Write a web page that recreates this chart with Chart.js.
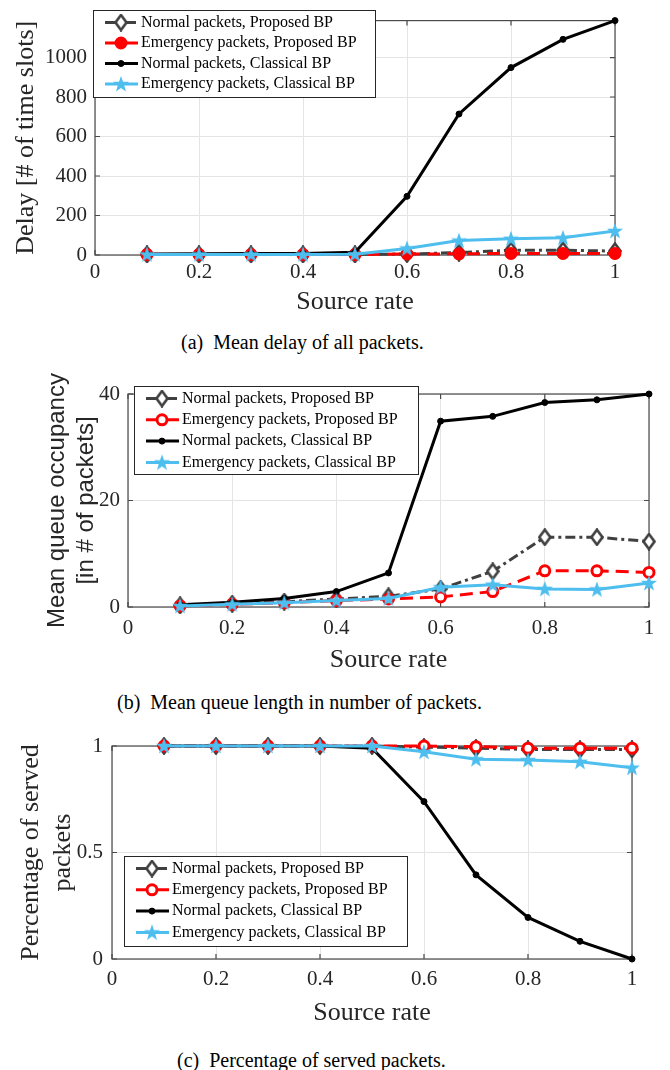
<!DOCTYPE html>
<html>
<head>
<meta charset="utf-8">
<script src="https://cdn.jsdelivr.net/npm/chart.js"></script>
<style>
  body { margin: 0; background: #fff; }
  #page { position: relative; width: 670px; height: 1070px; }
  canvas { position: absolute; left: 0; }
  .cap { position: absolute; font-family: 'Liberation Serif', serif; font-size: 20px; line-height: 20px; white-space: pre; color: #000; }
</style>
</head>
<body>
<div id="page">
  <canvas id="delayChart" width="670" height="320" style="top:0px"></canvas>
  <canvas id="queueChart" width="670" height="320" style="top:360px"></canvas>
  <canvas id="servedChart" width="670" height="320" style="top:720px"></canvas>
  <div class="cap" style="left:181px;top:332px">(a)  Mean delay of all packets.</div>
  <div class="cap" style="left:117px;top:692px">(b)  Mean queue length in number of packets.</div>
  <div class="cap" style="left:177px;top:1050px">(c)  Percentage of served packets.</div>
</div>
<script>
// x values and axis ticks shared by all three panels
const sourceRate = [0.1, 0.2, 0.3, 0.4, 0.5, 0.6, 0.7, 0.8, 0.9, 1.0];
const xTicks = [0, 0.2, 0.4, 0.6, 0.8, 1];
const xTickLabels = ['0', '0.2', '0.4', '0.6', '0.8', '1'];
const seriesNames = [
  'Normal packets, Proposed BP',
  'Emergency packets, Proposed BP',
  'Normal packets, Classical BP',
  'Emergency packets, Classical BP'
];

// (a) mean delay
const delayNormalProposed = [3, 3, 3, 3, 3, 5, 12, 24, 24, 20];
const delayEmergencyProposed = [2, 2, 2, 2, 2, 5, 6, 8, 8, 8];
const delayNormalClassical = [5, 6, 7, 8, 14, 297, 714, 949, 1092, 1187];
const delayEmergencyClassical = [3, 3, 3, 3, 4, 33, 73, 82, 87, 122];
const delayTicks = [0, 200, 400, 600, 800, 1000];
const delayTickLabels = ['0', '200', '400', '600', '800', '1000'];

// (b) mean queue occupancy
const queueNormalProposed = [0.3, 0.6, 1.0, 1.5, 2.0, 3.4, 6.7, 13.1, 13.1, 12.3];
const queueEmergencyProposed = [0.2, 0.5, 0.8, 1.2, 1.5, 1.9, 2.9, 6.8, 6.8, 6.5];
const queueNormalClassical = [0.4, 0.9, 1.6, 2.9, 6.4, 34.9, 35.8, 38.4, 38.9, 40.0];
const queueEmergencyClassical = [0.2, 0.5, 0.8, 1.2, 1.6, 3.7, 4.2, 3.4, 3.3, 4.5];
const queueTicks = [0, 20, 40];
const queueTickLabels = ['0', '20', '40'];

// (c) percentage of served packets
const servedNormalProposed = [1, 1, 1, 1, 1, 0.995, 0.99, 0.984, 0.984, 0.984];
const servedEmergencyProposed = [1, 1, 1, 1, 1, 1, 0.997, 0.99, 0.99, 0.99];
const servedNormalClassical = [1, 1, 1, 1, 0.99, 0.739, 0.395, 0.195, 0.083, 0];
const servedEmergencyClassical = [1, 1, 1, 1, 1, 0.973, 0.938, 0.934, 0.926, 0.898];
const servedTicks = [0, 0.5, 1];
const servedTickLabels = ['0', '0.5', '1'];

const textColor = '#262626';
const gridColor = '#e4e4e4';
const blue = '#4DBEEE';
const serif = "'Liberation Serif', serif";
const sans = "'Liberation Sans', sans-serif";
Chart.defaults.font.family = serif;

// marker images (matlab style diamond and filled star)
function makeDiamond() {
  const c = document.createElement('canvas');
  c.width = 14; c.height = 18;
  const g = c.getContext('2d');
  g.beginPath();
  g.moveTo(7, 1.5); g.lineTo(12.5, 9); g.lineTo(7, 16.5); g.lineTo(1.5, 9); g.closePath();
  g.fillStyle = '#fff'; g.fill();
  g.lineWidth = 2.6; g.strokeStyle = '#404040'; g.stroke();
  return c;
}
function makeStar() {
  const c = document.createElement('canvas');
  c.width = 18; c.height = 18;
  const g = c.getContext('2d');
  g.beginPath();
  for (let i = 0; i < 10; i++) {
    const r = i % 2 ? 3.4 : 8.5;
    const a = -Math.PI / 2 + i * Math.PI / 5;
    g.lineTo(9 + r * Math.cos(a), 9.5 + r * Math.sin(a));
  }
  g.closePath();
  g.fillStyle = blue; g.fill();
  return c;
}
const diamondImg = makeDiamond();
const starImg = makeStar();

function makeDatasets(values, redFill) {
  const styles = [
    { borderColor: '#404040', borderDash: [10, 4, 3, 4], pointStyle: diamondImg, pointRadius: 7, order: 4 },
    { borderColor: '#ff0000', borderDash: [13, 7], pointStyle: 'circle', pointRadius: 5, pointBorderWidth: 3,
      pointBorderColor: '#ff0000', pointBackgroundColor: redFill ? '#ff0000' : '#fff', order: 3 },
    { borderColor: '#000', pointStyle: 'circle', pointRadius: 3, pointBorderWidth: 1,
      pointBorderColor: '#000', pointBackgroundColor: '#000', order: 2 },
    { borderColor: blue, pointStyle: starImg, pointRadius: 7, order: 1 }
  ];
  return values.map((vals, i) => Object.assign({
    label: seriesNames[i],
    data: sourceRate.map((x, j) => ({ x: x, y: vals[j] })),
    borderWidth: 3,
    fill: false,
    tension: 0,
    clip: false
  }, styles[i]));
}

function drawMarker(ctx, ds, x, y) {
  if (typeof ds.pointStyle === 'object') {
    ctx.drawImage(ds.pointStyle, x - ds.pointStyle.width / 2, y - ds.pointStyle.height / 2);
    return;
  }
  ctx.beginPath();
  ctx.arc(x, y, ds.pointRadius, 0, Math.PI * 2);
  ctx.fillStyle = ds.pointBackgroundColor;
  ctx.fill();
  ctx.lineWidth = ds.pointBorderWidth;
  ctx.strokeStyle = ds.pointBorderColor;
  ctx.stroke();
}

// box around axes, inward ticks, and legend box
const matlabBox = {
  id: 'matlabBox',
  beforeDatasetsDraw(chart) {
    const { ctx, chartArea: a, scales } = chart;
    ctx.save();
    ctx.strokeStyle = '#4a4a4a';
    ctx.lineWidth = 1.2;
    ctx.strokeRect(a.left, a.top, a.right - a.left, a.bottom - a.top);
    ctx.beginPath();
    scales.x.ticks.forEach(t => {
      const px = scales.x.getPixelForValue(t.value);
      ctx.moveTo(px, a.bottom); ctx.lineTo(px, a.bottom - 5);
      ctx.moveTo(px, a.top); ctx.lineTo(px, a.top + 5);
    });
    scales.y.ticks.forEach(t => {
      const py = scales.y.getPixelForValue(t.value);
      ctx.moveTo(a.left, py); ctx.lineTo(a.left + 5, py);
      ctx.moveTo(a.right, py); ctx.lineTo(a.right - 5, py);
    });
    ctx.stroke();
    ctx.restore();
  },
  afterDatasetsDraw(chart, args, opts) {
    const L = opts.legend;
    if (!L) return;
    const ctx = chart.ctx;
    ctx.save();
    ctx.fillStyle = '#fff';
    ctx.fillRect(L.x, L.y, L.w, L.h);
    ctx.strokeStyle = '#262626';
    ctx.lineWidth = 1;
    ctx.strokeRect(L.x + 0.5, L.y + 0.5, L.w, L.h);
    chart.data.datasets.forEach((ds, i) => {
      const yy = L.y + 12.5 + i * L.gap;
      ctx.setLineDash(ds.borderDash || []);
      ctx.strokeStyle = ds.borderColor;
      ctx.lineWidth = ds.borderWidth;
      ctx.beginPath();
      ctx.moveTo(L.x + 12, yy);
      ctx.lineTo(L.x + 45, yy);
      ctx.stroke();
      ctx.setLineDash([]);
      drawMarker(ctx, ds, L.x + 28, yy);
      ctx.fillStyle = '#000';
      ctx.font = "16px 'Liberation Serif', serif";
      ctx.textBaseline = 'middle';
      ctx.fillText(ds.label, L.x + 48, yy);
    });
    ctx.restore();
  }
};

function makeChart(id, c) {
  return new Chart(document.getElementById(id), {
    type: 'line',
    data: { datasets: c.datasets },
    options: {
      responsive: false,
      animation: false,
      devicePixelRatio: 1,
      layout: { padding: { top: c.padTop, right: c.padRight, left: 0, bottom: 0 } },
      plugins: {
        legend: { display: false },
        tooltip: { enabled: false },
        matlabBox: { legend: c.legend }
      },
      scales: {
        x: {
          type: 'linear', min: 0, max: 1,
          afterBuildTicks: s => { s.ticks = xTicks.map(v => ({ value: v })); },
          afterFit: s => { s.height = c.xHeight; },
          grid: { color: gridColor, drawTicks: false },
          border: { display: false },
          ticks: { padding: c.xPad, color: textColor, font: { family: serif, size: 21 }, maxRotation: 0, autoSkip: false,
                   callback: (v, i) => xTickLabels[i] },
          title: { display: true, text: 'Source rate', color: textColor, font: { family: serif, size: 26 },
                   padding: { top: 0, bottom: c.xTitlePad } }
        },
        y: {
          type: 'linear', min: c.yMin, max: c.yMax,
          afterBuildTicks: s => { s.ticks = c.yTicks.map(v => ({ value: v })); },
          afterFit: s => { s.width = c.yWidth; },
          grid: { color: gridColor, drawTicks: false },
          border: { display: false },
          ticks: { padding: c.yPad, color: textColor, font: { family: serif, size: 21 }, autoSkip: false,
                   callback: (v, i) => c.yTickLabels[i] },
          title: { display: true, text: c.yTitle, color: textColor, font: c.yTitleFont,
                   padding: { top: c.yTitlePad, bottom: 0 } }
        }
      }
    },
    plugins: [matlabBox]
  });
}

makeChart('delayChart', {
  datasets: makeDatasets([delayNormalProposed, delayEmergencyProposed, delayNormalClassical, delayEmergencyClassical], true),
  padTop: 12, padRight: 55, yWidth: 95, xHeight: 65,
  xPad: 5, xTitlePad: 2,
  yMin: 0, yMax: 1187, yTicks: delayTicks, yTickLabels: delayTickLabels, yPad: 8,
  yTitle: 'Delay [# of time slots]', yTitleFont: { family: serif, size: 26 }, yTitlePad: 11,
  legend: { x: 93, y: 10, w: 282, h: 87, gap: 20.5 }
});

makeChart('queueChart', {
  datasets: makeDatasets([queueNormalProposed, queueEmergencyProposed, queueNormalClassical, queueEmergencyClassical], false),
  padTop: 34, padRight: 21, yWidth: 128, xHeight: 73,
  xPad: 9, xTitlePad: 4,
  yMin: 0, yMax: 40, yTicks: queueTicks, yTickLabels: queueTickLabels, yPad: 8,
  yTitle: ['Mean queue occupancy', '[in # of packets]'],
  yTitleFont: { family: sans, size: 24 }, yTitlePad: 43,
  legend: { x: 134, y: 26, w: 284, h: 88, gap: 21.3 }
});

makeChart('servedChart', {
  datasets: makeDatasets([servedNormalProposed, servedEmergencyProposed, servedNormalClassical, servedEmergencyClassical], false),
  padTop: 26, padRight: 38, yWidth: 112, xHeight: 81,
  xPad: 8, xTitlePad: 11,
  yMin: 0, yMax: 1, yTicks: servedTicks, yTickLabels: servedTickLabels, yPad: 9,
  yTitle: ['Percentage of served', 'packets'], yTitleFont: { family: serif, size: 26 }, yTitlePad: 16,
  legend: { x: 124, y: 136, w: 283, h: 90, gap: 21.3 }
});
</script>
</body>
</html>
